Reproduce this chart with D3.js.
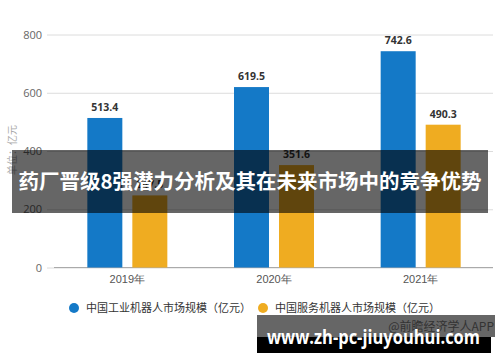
<!DOCTYPE html>
<html>
<head>
<meta charset="utf-8">
<script src="https://cdn.jsdelivr.net/npm/d3@7"></script>
<style>
  body { margin: 0; background: #fff; }
  svg { display: block; font-family: "Noto Sans CJK SC", "Open Sans", sans-serif; }
</style>
</head>
<body>
<div id="chart"></div>
<script>
const w = 500;
const h = 362;

const years = ["2019年", "2020年", "2021年"];
const industrial = [513.4, 619.5, 742.6];
const service = [247.5, 351.6, 490.3];
const seriesNames = ["中国工业机器人市场规模（亿元）", "中国服务机器人市场规模（亿元）"];
const seriesColors = ["#1479c7", "#efac21"];
const yTicks = [0, 200, 400, 600, 800];

const margin = { top: 35, right: 6, bottom: 95, left: 54 };

const svg = d3.select("#chart")
    .append("svg")
    .attr("width", w)
    .attr("height", h);

const x = d3.scaleBand()
    .domain(years)
    .range([margin.left, w - margin.right]);

const y = d3.scaleLinear()
    .domain([0, 800])
    .range([h - margin.bottom + 0.5, margin.top - 0.5]);

// gridlines + y labels
const yAxis = svg.append("g")
    .attr("transform", "translate(47,0)")
    .call(d3.axisLeft(y).tickValues(yTicks).tickSize(-(w - 47 - 7)).tickPadding(5));
yAxis.select(".domain").remove();
yAxis.selectAll(".tick line").attr("stroke", "#dcdcdc");
yAxis.selectAll(".tick text")
    .attr("fill", "#666")
    .attr("font-size", "11px")
    .attr("font-family", "Open Sans, sans-serif");

// baseline
svg.append("line")
    .attr("x1", margin.left)
    .attr("x2", w - 7)
    .attr("y1", y(0))
    .attr("y2", y(0))
    .attr("stroke", "#aaa");

// x labels
const xAxis = svg.append("g")
    .attr("transform", `translate(0,${y(0)})`)
    .call(d3.axisBottom(x).tickSize(0).tickPadding(8));
xAxis.select(".domain").remove();
xAxis.selectAll(".tick text")
    .attr("fill", "#555")
    .attr("font-size", "11px");

// y axis title
svg.append("text")
    .attr("transform", "translate(16,150) rotate(-90)")
    .attr("text-anchor", "middle")
    .attr("font-size", "10px")
    .attr("fill", "#aaa")
    .text("单位：亿元");

const barW = 35;
const gap = 10;
const series = [industrial, service];

series.forEach(function (vals, s) {
    const offset = s === 0 ? -(barW + gap / 2) : gap / 2;
    svg.append("g").selectAll("rect")
        .data(vals)
        .enter()
        .append("rect")
        .attr("x", function (d, i) { return x(years[i]) + x.bandwidth() / 2 + offset; })
        .attr("y", function (d) { return y(d); })
        .attr("width", barW)
        .attr("height", function (d) { return y(0) - y(d); })
        .attr("fill", seriesColors[s]);

    svg.append("g").selectAll("text")
        .data(vals)
        .enter()
        .append("text")
        .text(function (d) { return d.toFixed(1); })
        .attr("x", function (d, i) { return x(years[i]) + x.bandwidth() / 2 + offset + barW / 2; })
        .attr("y", function (d) { return y(d) - 7; })
        .attr("text-anchor", "middle")
        .attr("font-size", "10.5px")
        .attr("font-weight", "bold")
        .attr("font-family", "Open Sans, sans-serif")
        .attr("fill", "#333");
});

// legend
const legendX = [74, 263];
seriesNames.forEach(function (name, s) {
    svg.append("circle")
        .attr("cx", legendX[s])
        .attr("cy", 308)
        .attr("r", 5)
        .attr("fill", seriesColors[s]);
    svg.append("text")
        .attr("x", legendX[s] + 12)
        .attr("y", 312)
        .attr("font-size", "11px")
        .attr("fill", "#333")
        .text(name);
});

// title banner overlay
svg.append("rect")
    .attr("x", 12).attr("y", 150)
    .attr("width", 476).attr("height", 63)
    .attr("fill", "rgba(0,0,0,0.6)");
svg.append("text")
    .attr("x", 250).attr("y", 189)
    .attr("text-anchor", "middle")
    .attr("font-size", "20.5px")
    .attr("font-weight", "bold")
    .attr("fill", "#fff")
    .text("药厂晋级8强潜力分析及其在未来市场中的竞争优势");

// source watermark + url banner
svg.append("rect")
    .attr("x", 257).attr("y", 315)
    .attr("width", 238).attr("height", 22)
    .attr("fill", "rgba(0,0,0,0.6)");
svg.append("text")
    .attr("x", 494).attr("y", 331)
    .attr("text-anchor", "end")
    .attr("font-size", "12px")
    .attr("fill", "#333")
    .text("@前瞻经济学人APP");
svg.append("rect")
    .attr("x", 257).attr("y", 337)
    .attr("width", 234).attr("height", 16)
    .attr("fill", "#000");
svg.append("text")
    .attr("x", 267).attr("y", 344)
    .attr("textLength", 213)
    .attr("lengthAdjust", "spacingAndGlyphs")
    .attr("font-size", "19px")
    .attr("font-weight", "bold")
    .attr("font-family", "Open Sans, sans-serif")
    .attr("fill", "#fff")
    .text("www.zh-pc-jiuyouhui.com");
</script>
</body>
</html>
